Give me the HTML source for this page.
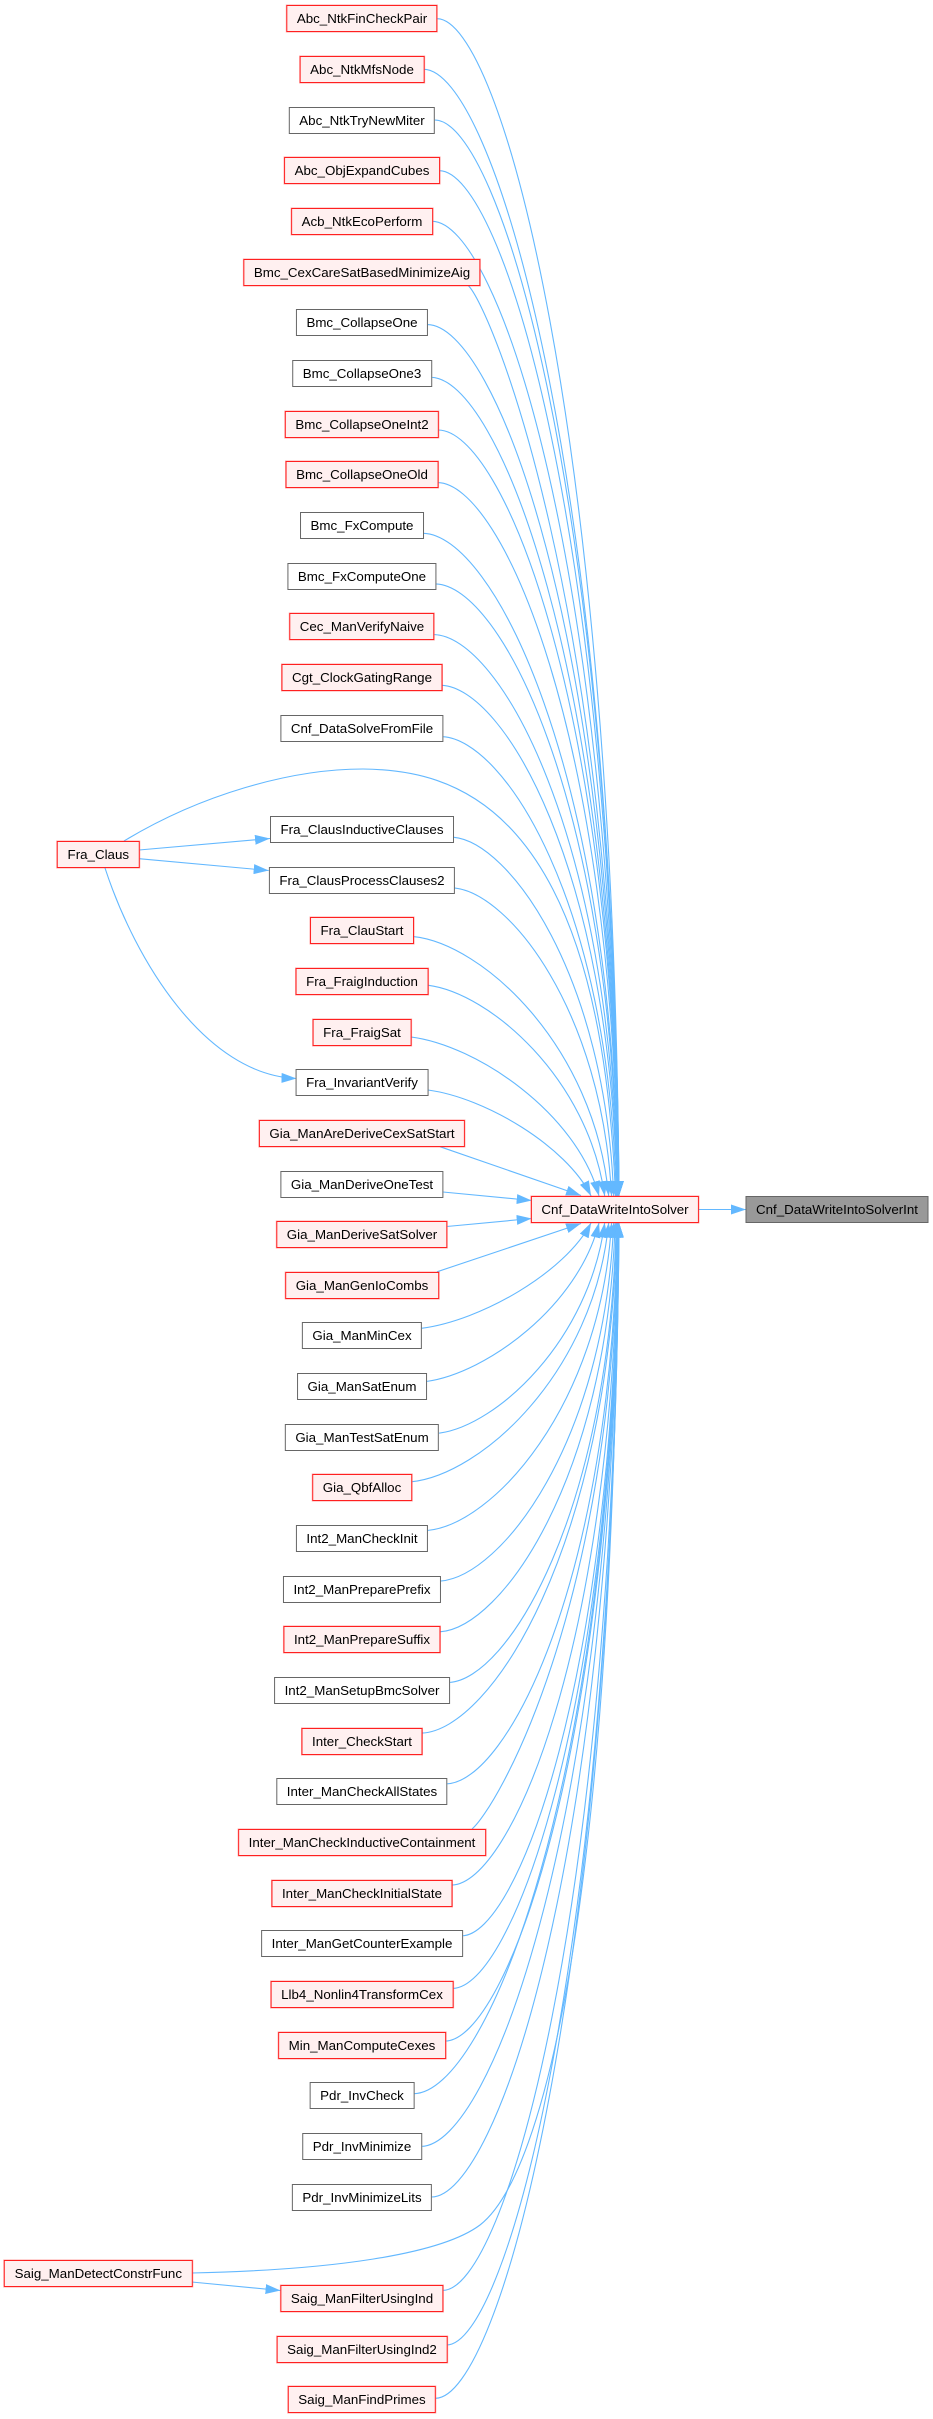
<!DOCTYPE html>
<html><head><meta charset="utf-8">
<style>
html,body{margin:0;padding:0;background:#fff;}
#c{position:relative;width:933px;height:2419px;overflow:hidden;background:#fff;}
svg{position:absolute;left:0;top:0;}
.n{position:absolute;height:27px;box-sizing:border-box;padding:0 9.5px;line-height:25px;font-family:"Liberation Sans",Arial,sans-serif;font-size:13.33px;color:#000;white-space:nowrap;transform:translateX(-50%);}
.r{background:#fff0f0;border:1px solid #ff2020;box-shadow:0 0 0 0.5px rgba(255,60,60,0.45);}
.g{background:#fff;border:1px solid #666;}
.root{background:#999;border:1px solid #666;}
</style></head><body><div id="c">
<svg width="933" height="2419" viewBox="0 0 933 2419">
<defs><marker id="a" markerWidth="16" markerHeight="10" refX="15" refY="5" orient="auto" markerUnits="userSpaceOnUse"><path d="M0,0 L15,5 L0,10 z" fill="#63b8ff"/></marker></defs>
<g fill="none" stroke="#63b8ff" stroke-width="1.1" marker-end="url(#a)">
<path d="M437,18.7 C500.7,18.7 613.5,430.7 619,1196"/>
<path d="M423.6,69.3 C492,69.3 613.1,463.6 619,1196"/>
<path d="M434.7,120 C499.2,120 613.5,496.6 619,1196"/>
<path d="M439.2,170.7 C502.1,170.7 613.5,529.6 618.9,1196"/>
<path d="M432.1,221.3 C497.5,221.3 613.3,562.4 618.9,1196"/>
<path d="M468,285.3 C490,305 614.5,604.4 618.9,1196"/>
<path d="M427.3,324.6 C494.3,324.6 613.1,628.3 618.8,1196"/>
<path d="M431,377.3 C496.7,377.9 612.9,662.6 618.7,1196"/>
<path d="M438.4,430 C501.5,430.7 612.9,696 618.6,1196"/>
<path d="M437.7,482.6 C501,483.5 612.7,729.5 618.5,1196"/>
<path d="M423.2,533.3 C491.5,534.5 611.8,763.1 618.3,1196"/>
<path d="M435.8,583.9 C499.6,585.5 611.7,796.9 618,1196"/>
<path d="M434.3,634.6 C498.5,636.6 611,831 617.6,1196"/>
<path d="M441.7,685.3 C503.1,687.9 610.3,865.3 617.1,1196"/>
<path d="M442.8,736.7 C503.5,740 609,899.9 616.3,1196"/>
<path d="M124,841 C200,795 290,769 363,769 C450,770 600,800 615.5,1196"/>
<path d="M453.2,837.2 C509.4,842.1 605.2,974.9 613.7,1196"/>
<path d="M454.3,887.9 C509.4,893.7 601.8,1010.3 611.6,1196"/>
<path d="M413.2,936.6 C481.6,943.4 594.1,1044.5 608.7,1196"/>
<path d="M427.7,985.2 C489.7,993 588.3,1078.4 604.7,1196"/>
<path d="M410.6,1036.9 C476.5,1045.1 576.9,1113 599,1196"/>
<path d="M428,1090 C485.1,1097.6 566.3,1146.1 591.1,1196"/>
<path d="M440,1146.7 L581,1195.5"/>
<path d="M443,1192 L531.7,1200.5"/>
<path d="M446.7,1226.5 L531.7,1218.5"/>
<path d="M437,1271.8 L581,1223.5"/>
<path d="M421.4,1328.3 C480.8,1320.7 565.3,1272.4 591.1,1222.7"/>
<path d="M426.2,1381.5 C486.7,1373.3 578.7,1305.5 599,1222.7"/>
<path d="M439.1,1433.2 C497.1,1425.5 589.4,1340.2 604.7,1222.7"/>
<path d="M411,1481.8 C480.2,1475 593.9,1374 608.7,1222.7"/>
<path d="M427.3,1530.5 C491.8,1524.7 600.2,1408.2 611.6,1222.7"/>
<path d="M440.3,1581.1 C501,1576.3 604.5,1443.5 613.7,1222.7"/>
<path d="M439.9,1631.8 C501.3,1627.8 607.1,1478.7 615.2,1222.7"/>
<path d="M449.1,1682.5 C507.6,1679.3 609.3,1513.6 616.3,1222.7"/>
<path d="M421.7,1733.1 C490.1,1730.6 609.6,1548.1 617.1,1222.7"/>
<path d="M446.9,1783.8 C506.6,1781.8 611.4,1582.4 617.6,1222.7"/>
<path d="M472,1829 C495,1810 613,1612.9 618,1222.7"/>
<path d="M451.7,1885.1 C510,1883.9 612.8,1650.2 618.3,1222.7"/>
<path d="M462.1,1935.8 C516.8,1934.9 613.5,1683.9 618.5,1222.7"/>
<path d="M452.8,1988.4 C510.8,1987.7 613.4,1718.6 618.6,1222.7"/>
<path d="M445.1,2041.1 C505.9,2040.6 613.3,1753.3 618.7,1222.7"/>
<path d="M413.6,2093.7 C485.4,2093.7 612.6,1788 618.8,1222.7"/>
<path d="M421,2146.4 C490.3,2146.4 612.8,1822.3 618.9,1222.7"/>
<path d="M431.3,2197 C497,2197 613.2,1855.4 618.9,1222.7"/>
<path d="M191.7,2273 C330,2270 440,2255 480,2225 C545,2175 613,1900 618.5,1222.7"/>
<path d="M442.8,2290.4 C504.5,2290.4 613.7,1916.7 619,1222.7"/>
<path d="M446.5,2345 C506.9,2345 613.8,1952.2 619,1222.7"/>
<path d="M435.4,2398.3 C499.7,2398.3 613.5,1986.8 619,1222.7"/>
<path d="M139,850 L270,838.5"/>
<path d="M139,858.7 L268.7,870.5"/>
<path d="M105,868 C135,960 205,1075 296.5,1078.5"/>
<path d="M191.7,2282 L280.5,2290.5"/>
<path d="M698.3,1209.5 L746,1209.5"/>
</g>
</svg>

<div class="n r" style="left:362px;top:5.3px">Abc_NtkFinCheckPair</div>
<div class="n r" style="left:362px;top:55.9px">Abc_NtkMfsNode</div>
<div class="n g" style="left:362px;top:106.6px">Abc_NtkTryNewMiter</div>
<div class="n r" style="left:362px;top:157.3px">Abc_ObjExpandCubes</div>
<div class="n r" style="left:362px;top:207.9px">Acb_NtkEcoPerform</div>
<div class="n r" style="left:362px;top:258.6px">Bmc_CexCareSatBasedMinimizeAig</div>
<div class="n g" style="left:362px;top:309.2px">Bmc_CollapseOne</div>
<div class="n g" style="left:362px;top:359.9px">Bmc_CollapseOne3</div>
<div class="n r" style="left:362px;top:410.6px">Bmc_CollapseOneInt2</div>
<div class="n r" style="left:362px;top:461.2px">Bmc_CollapseOneOld</div>
<div class="n g" style="left:362px;top:511.9px">Bmc_FxCompute</div>
<div class="n g" style="left:362px;top:562.5px">Bmc_FxComputeOne</div>
<div class="n r" style="left:362px;top:613.2px">Cec_ManVerifyNaive</div>
<div class="n r" style="left:362px;top:663.9px">Cgt_ClockGatingRange</div>
<div class="n g" style="left:362px;top:714.5px">Cnf_DataSolveFromFile</div>
<div class="n r" style="left:98.3px;top:841px">Fra_Claus</div>
<div class="n g" style="left:362px;top:815.8px">Fra_ClausInductiveClauses</div>
<div class="n g" style="left:362px;top:866.5px">Fra_ClausProcessClauses2</div>
<div class="n r" style="left:362px;top:917.2px">Fra_ClauStart</div>
<div class="n r" style="left:362px;top:967.8px">Fra_FraigInduction</div>
<div class="n r" style="left:362px;top:1018.5px">Fra_FraigSat</div>
<div class="n g" style="left:362px;top:1069.1px">Fra_InvariantVerify</div>
<div class="n r" style="left:362px;top:1119.8px">Gia_ManAreDeriveCexSatStart</div>
<div class="n g" style="left:362px;top:1170.5px">Gia_ManDeriveOneTest</div>
<div class="n r" style="left:362px;top:1221.1px">Gia_ManDeriveSatSolver</div>
<div class="n r" style="left:362px;top:1271.8px">Gia_ManGenIoCombs</div>
<div class="n g" style="left:362px;top:1322.4px">Gia_ManMinCex</div>
<div class="n g" style="left:362px;top:1373.1px">Gia_ManSatEnum</div>
<div class="n g" style="left:362px;top:1423.8px">Gia_ManTestSatEnum</div>
<div class="n r" style="left:362px;top:1474.4px">Gia_QbfAlloc</div>
<div class="n g" style="left:362px;top:1525.1px">Int2_ManCheckInit</div>
<div class="n g" style="left:362px;top:1575.7px">Int2_ManPreparePrefix</div>
<div class="n r" style="left:362px;top:1626.4px">Int2_ManPrepareSuffix</div>
<div class="n g" style="left:362px;top:1677.1px">Int2_ManSetupBmcSolver</div>
<div class="n r" style="left:362px;top:1727.7px">Inter_CheckStart</div>
<div class="n g" style="left:362px;top:1778.4px">Inter_ManCheckAllStates</div>
<div class="n r" style="left:362px;top:1829px">Inter_ManCheckInductiveContainment</div>
<div class="n r" style="left:362px;top:1879.7px">Inter_ManCheckInitialState</div>
<div class="n g" style="left:362px;top:1930.4px">Inter_ManGetCounterExample</div>
<div class="n r" style="left:362px;top:1981px">Llb4_Nonlin4TransformCex</div>
<div class="n r" style="left:362px;top:2031.7px">Min_ManComputeCexes</div>
<div class="n g" style="left:362px;top:2082.3px">Pdr_InvCheck</div>
<div class="n g" style="left:362px;top:2133px">Pdr_InvMinimize</div>
<div class="n g" style="left:362px;top:2183.7px">Pdr_InvMinimizeLits</div>
<div class="n r" style="left:98.3px;top:2260px">Saig_ManDetectConstrFunc</div>
<div class="n r" style="left:362px;top:2285px">Saig_ManFilterUsingInd</div>
<div class="n r" style="left:362px;top:2335.6px">Saig_ManFilterUsingInd2</div>
<div class="n r" style="left:362px;top:2386.3px">Saig_ManFindPrimes</div>
<div class="n r" style="left:615px;top:1196px">Cnf_DataWriteIntoSolver</div>
<div class="n root" style="left:837px;top:1196px">Cnf_DataWriteIntoSolverInt</div>
</div></body></html>
